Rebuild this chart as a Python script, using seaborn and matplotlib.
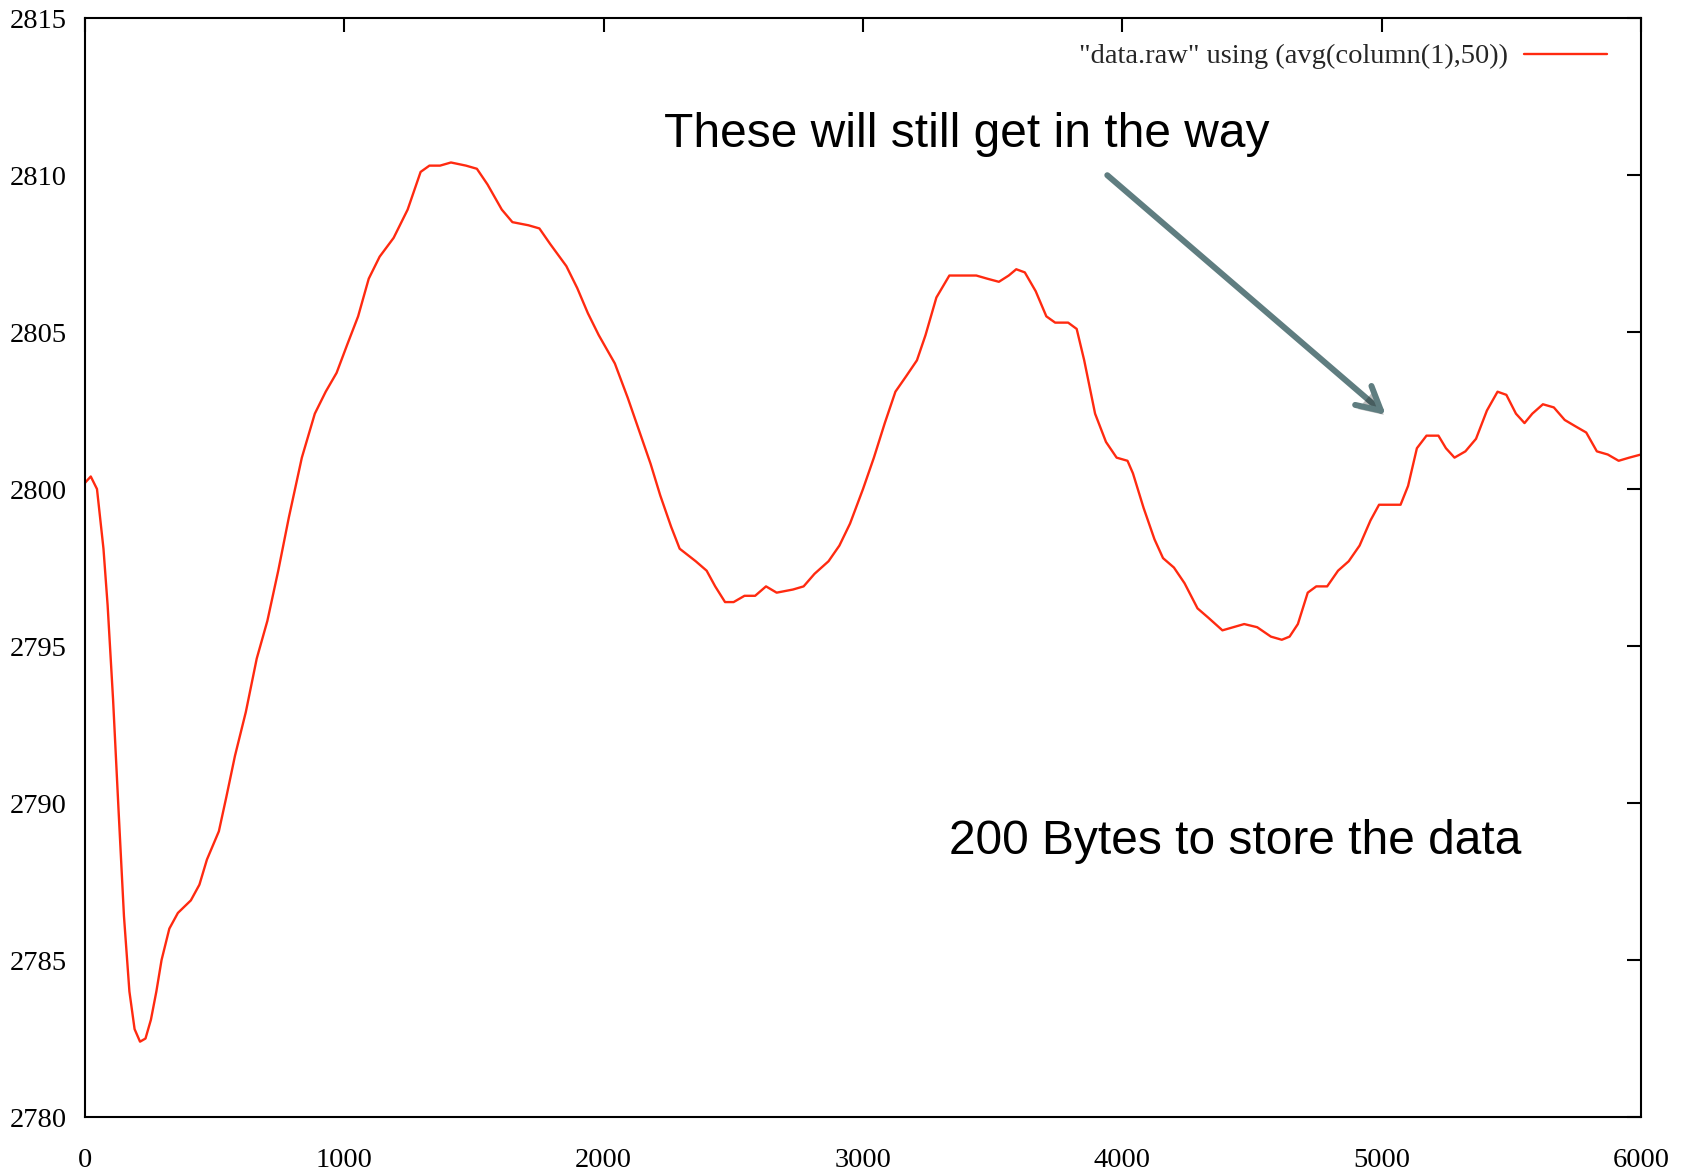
import matplotlib
matplotlib.use("Agg")
import matplotlib.pyplot as plt
import matplotlib.patheffects as pe
import seaborn as sns
import pandas as pd

# Moving average (window 50) of the raw samples
sample_index = [
    0, 22, 46, 71, 87, 108, 129, 150, 171, 191, 212, 233, 254, 275, 295, 325,
    358, 408, 441, 470, 516, 545, 578, 620, 662, 703, 745, 786, 836, 886, 928,
    970, 1011, 1053, 1094, 1136, 1190, 1244, 1294, 1328, 1369, 1411, 1469, 1511,
    1552, 1607, 1648, 1710, 1752, 1794, 1856, 1898, 1939, 1981, 2043, 2093,
    2139, 2181, 2218, 2260, 2293, 2355, 2397, 2430, 2468, 2501, 2543, 2584,
    2626, 2667, 2730, 2771, 2813, 2867, 2909, 2950, 3000, 3042, 3084, 3125,
    3167, 3208, 3241, 3283, 3333, 3383, 3437, 3479, 3524, 3562, 3591, 3624,
    3666, 3707, 3741, 3791, 3824, 3853, 3895, 3937, 3978, 4020, 4041, 4082,
    4124, 4157, 4199, 4240, 4290, 4332, 4386, 4428, 4470, 4520, 4573, 4615,
    4645, 4677, 4715, 4748, 4790, 4832, 4873, 4915, 4957, 4990, 5040, 5073,
    5102, 5136, 5173, 5219, 5248, 5281, 5323, 5364, 5406, 5447, 5481, 5518,
    5551, 5581, 5622, 5664, 5706, 5747, 5789, 5830, 5872, 5914, 5955, 6000,
]
avg_value = [
    2800.2, 2800.4, 2800.0, 2798.1, 2796.3, 2793.3, 2789.8, 2786.4, 2784.0,
    2782.8, 2782.4, 2782.5, 2783.1, 2784.0, 2785.0, 2786.0, 2786.5, 2786.9,
    2787.4, 2788.2, 2789.1, 2790.2, 2791.5, 2792.9, 2794.6, 2795.8, 2797.4,
    2799.1, 2801.0, 2802.4, 2803.1, 2803.7, 2804.6, 2805.5, 2806.7, 2807.4,
    2808.0, 2808.9, 2810.1, 2810.3, 2810.3, 2810.4, 2810.3, 2810.2, 2809.7,
    2808.9, 2808.5, 2808.4, 2808.3, 2807.8, 2807.1, 2806.4, 2805.6, 2804.9,
    2804.0, 2802.9, 2801.8, 2800.8, 2799.8, 2798.8, 2798.1, 2797.7, 2797.4,
    2796.9, 2796.4, 2796.4, 2796.6, 2796.6, 2796.9, 2796.7, 2796.8, 2796.9,
    2797.3, 2797.7, 2798.2, 2798.9, 2800.0, 2801.0, 2802.1, 2803.1, 2803.6,
    2804.1, 2804.9, 2806.1, 2806.8, 2806.8, 2806.8, 2806.7, 2806.6, 2806.8,
    2807.0, 2806.9, 2806.3, 2805.5, 2805.3, 2805.3, 2805.1, 2804.1, 2802.4,
    2801.5, 2801.0, 2800.9, 2800.5, 2799.4, 2798.4, 2797.8, 2797.5, 2797.0,
    2796.2, 2795.9, 2795.5, 2795.6, 2795.7, 2795.6, 2795.3, 2795.2, 2795.3,
    2795.7, 2796.7, 2796.9, 2796.9, 2797.4, 2797.7, 2798.2, 2799.0, 2799.5,
    2799.5, 2799.5, 2800.1, 2801.3, 2801.7, 2801.7, 2801.3, 2801.0, 2801.2,
    2801.6, 2802.5, 2803.1, 2803.0, 2802.4, 2802.1, 2802.4, 2802.7, 2802.6,
    2802.2, 2802.0, 2801.8, 2801.2, 2801.1, 2800.9, 2801.0, 2801.1,
]
series_label = '"data.raw" using (avg(column(1),50))'
x_ticks = [0, 1000, 2000, 3000, 4000, 5000, 6000]
y_ticks = [2780, 2785, 2790, 2795, 2800, 2805, 2810, 2815]
note_top = "These will still get in the way"
note_bottom = "200 Bytes to store the data"

df = pd.DataFrame({"x": sample_index, "y": avg_value})

sns.set_theme(style="white")
plt.rcParams["font.family"] = ["Liberation Serif", "DejaVu Serif"]
plt.rcParams["axes.edgecolor"] = "black"

fig = plt.figure(figsize=(16.91, 11.72), dpi=100)
ax = fig.add_axes([0.0503, 0.0469, 0.9201, 0.9377])

sns.lineplot(data=df, x="x", y="y", ax=ax, color="#ff2a10", linewidth=1.7,
             label=series_label, solid_joinstyle="round",
             solid_capstyle="round")

ax.set_xlim(0, 6000)
ax.set_ylim(2780, 2815)
ax.set_xticks(x_ticks)
ax.set_yticks(y_ticks)
ax.set_xlabel("")
ax.set_ylabel("")
for s in ax.spines.values():
    s.set_linewidth(1.5)
    s.set_color("black")
ax.tick_params(axis="both", which="both", direction="in", length=10, width=1.5,
               colors="black", labelsize=20.5, top=True, right=True)
ax.tick_params(axis="y", pad=13)
ax.tick_params(axis="x", pad=22)

leg = ax.legend(loc="center right", bbox_to_anchor=(0.978, 0.965),
                frameon=False, markerfirst=False, handlelength=2.9,
                handletextpad=0.55, borderpad=0, borderaxespad=0,
                prop={"family": "Liberation Serif", "size": 20.5})

ax.text(0.372, 0.894, note_top, transform=ax.transAxes, ha="left",
        va="center", fontsize=34.5, family="Liberation Sans", color="black")
ax.text(0.555, 0.251, note_bottom, transform=ax.transAxes, ha="left",
        va="center", fontsize=34.5, family="Liberation Sans", color="black")

arrow = ax.annotate(
    "", xy=(0.836, 0.639), xytext=(0.657, 0.857),
    xycoords="axes fraction", textcoords="axes fraction",
    arrowprops=dict(arrowstyle="->,head_length=1.4,head_width=0.75",
                    color="#5f7d80", lw=4.3, shrinkA=0, shrinkB=0,
                    capstyle="round", joinstyle="round"))
arrow.arrow_patch.set_path_effects([
    pe.SimplePatchShadow(offset=(2, -3), shadow_rgbFace="#000000", alpha=0.25),
    pe.Normal(),
])

fig.savefig("out.png", dpi=100, facecolor="white")
